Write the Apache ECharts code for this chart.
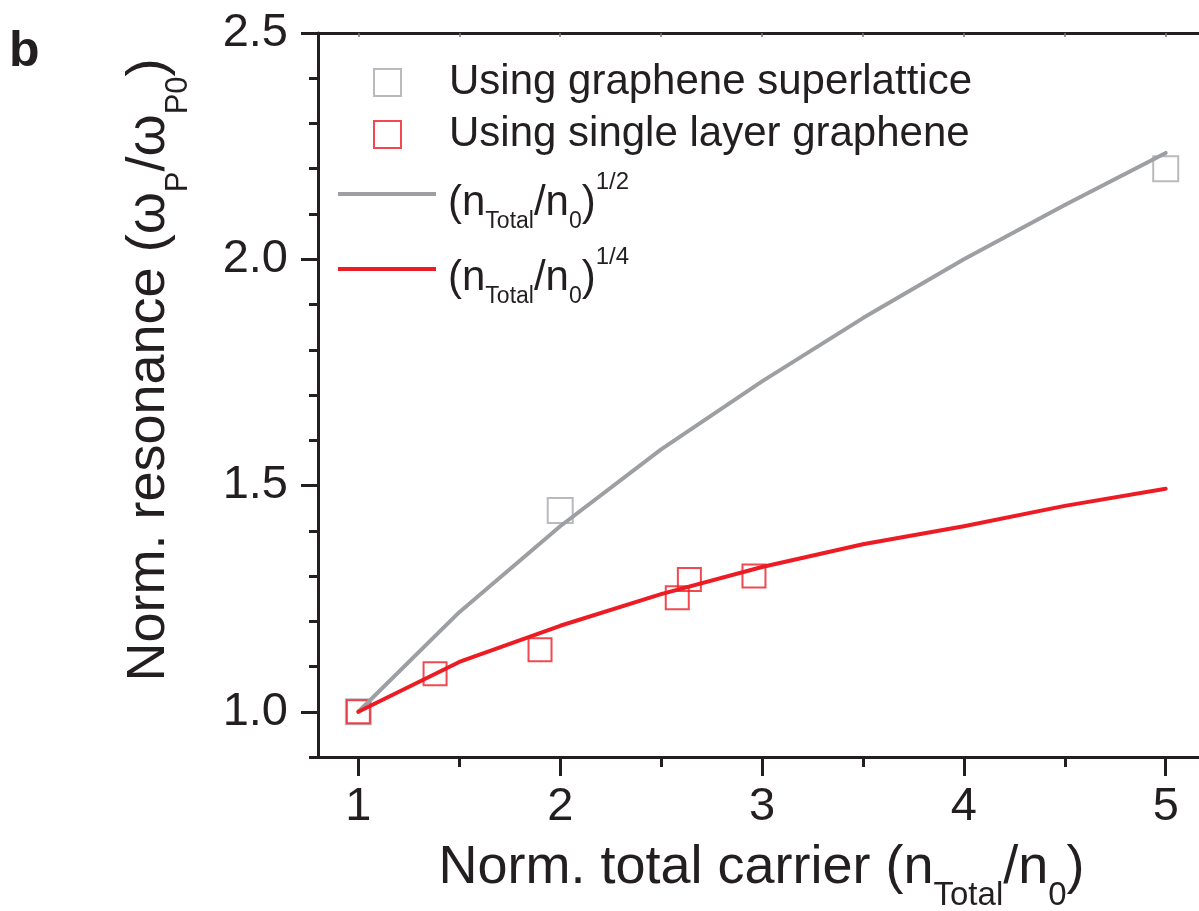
<!DOCTYPE html>
<html>
<head>
<meta charset="utf-8">
<script src="https://cdn.jsdelivr.net/npm/echarts@6/dist/echarts.min.js"></script>
<style>
  body { margin: 0; background: #fff; }
  #myChart { width: 1199px; height: 911px; }
</style>
</head>
<body>
<div id="myChart"></div>
<script>
// values
var fitX = [1, 1.5, 2, 2.5, 3, 3.5, 4, 4.5, 5]
var fitHalf = [1.00, 1.22, 1.41, 1.58, 1.73, 1.87, 2.00, 2.12, 2.235]
var fitQuarter = [1.00, 1.11, 1.19, 1.26, 1.32, 1.37, 1.41, 1.455, 1.493]
var superX = [1, 2, 5]
var superY = [1.00, 1.445, 2.20]
var singleX = [1, 1.38, 1.90, 2.58, 2.64, 2.96]
var singleY = [1.00, 1.084, 1.137, 1.252, 1.292, 1.30]
var xMajor = [1, 2, 3, 4, 5]
var xMinor = [1.5, 2.5, 3.5, 4.5]
var xTop = [1, 1.5, 2, 2.5, 3, 3.5, 4, 4.5, 5]
var yMajor = [1.0, 1.5, 2.0, 2.5]
var yMinor = [0.9, 1.1, 1.2, 1.3, 1.4, 1.6, 1.7, 1.8, 1.9, 2.1, 2.2, 2.3, 2.4]

var names = ['Using graphene superlattice', 'Using single layer graphene', 'half', 'quarter']
var ink = '#231f20'
var gray = '#9d9fa2'
var red = '#ed1c24'
var font = "'Liberation Sans', Arial, sans-serif"

function pairs (xs, ys) {
  return xs.map((x, i) => [x, ys[i]])
}

// rich styles for the small sub/superscripts
var legendRich = {
  a: { fontSize: 42, lineHeight: 66, fontFamily: font, color: ink },
  s: { fontSize: 23, lineHeight: 10, verticalAlign: 'top', padding: [40, 0, 0, 0], fontFamily: font, color: ink },
  p: { fontSize: 24, lineHeight: 10, verticalAlign: 'top', padding: [0, 0, 0, 0], fontFamily: font, color: ink }
}

function squareLegend (name, top, border) {
  return {
    left: 373,
    top: top,
    padding: 0,
    selectedMode: false,
    itemWidth: 27,
    itemHeight: 27,
    data: [{ name: name, icon: 'rect', itemStyle: { color: 'rgba(0,0,0,0)', borderColor: border, borderWidth: 2 } }],
    textStyle: { fontSize: 42, fontFamily: font, color: ink, padding: [0, 0, 0, 43] }
  }
}

function lineLegend (name, top, color, power) {
  return {
    left: 338,
    top: top,
    padding: 0,
    selectedMode: false,
    itemWidth: 98,
    itemHeight: 4,
    data: [{ name: name, icon: 'rect', itemStyle: { color: color, borderWidth: 0 } }],
    formatter: function () {
      return '{a|(n}{s|Total}{a|/n}{s|0}{a|)}{p|' + power + '}'
    },
    textStyle: { fontSize: 42, fontFamily: font, color: ink, padding: [18, 0, 0, 7], rich: legendRich }
  }
}

var option = {
  animation: false,
  title: {
    text: 'b',
    left: 9,
    top: 27,
    padding: 0,
    textStyle: { fontSize: 50, fontWeight: 'bold', fontFamily: font, color: ink }
  },
  grid: { left: 318, top: 33, right: 0, bottom: 154, outerBoundsMode: 'none' },
  legend: [
    squareLegend(names[0], 61.5, '#a7a9ac'),
    squareLegend(names[1], 113.5, red),
    lineLegend(names[2], 170, gray, '1/2'),
    lineLegend(names[3], 245, red, '1/4')
  ],
  xAxis: [
    {
      type: 'value',
      min: 0.8,
      max: 5.165,
      position: 'bottom',
      splitLine: { show: false },
      axisLine: { show: true, lineStyle: { color: ink, width: 3 } },
      axisTick: { customValues: xMajor, length: 19, lineStyle: { color: ink, width: 3 } },
      axisLabel: { customValues: xMajor, fontSize: 47, margin: 27, color: ink, fontFamily: font },
      name: '{a|Norm. total carrier (n}{s|Total}{a|/n}{s|0}{a|)}',
      nameLocation: 'middle',
      nameGap: 84,
      nameTextStyle: {
        padding: [0, 0, 0, 6],
        rich: {
          a: { fontSize: 54, lineHeight: 54, fontFamily: font, color: ink },
          s: { fontSize: 33, lineHeight: 10, verticalAlign: 'top', padding: [38, 0, 0, 0], fontFamily: font, color: ink }
        }
      }
    },
    {
      type: 'value',
      min: 0.8,
      max: 5.165,
      position: 'bottom',
      splitLine: { show: false },
      axisLine: { show: false },
      axisTick: { customValues: xMinor, length: 10, lineStyle: { color: ink, width: 3 } },
      axisLabel: { show: false }
    },
    {
      type: 'value',
      min: 0.8,
      max: 5.165,
      position: 'top',
      splitLine: { show: false },
      axisLine: { show: true, lineStyle: { color: ink, width: 3 } },
      axisTick: { customValues: xTop, inside: true, length: 4, lineStyle: { color: '#777', width: 1.5 } },
      axisLabel: { show: false }
    }
  ],
  yAxis: [
    {
      type: 'value',
      min: 0.9,
      max: 2.5,
      position: 'left',
      splitLine: { show: false },
      axisLine: { show: true, lineStyle: { color: ink, width: 3 } },
      axisTick: { customValues: yMajor, length: 17, lineStyle: { color: ink, width: 3 } },
      axisLabel: {
        customValues: yMajor,
        fontSize: 47,
        margin: 30,
        color: ink,
        fontFamily: font,
        formatter: function (v) { return v.toFixed(1) }
      },
      name: '{a|Norm. resonance (\u03c9}{s|P}{a|/\u03c9}{s|P0}{a|)}',
      nameLocation: 'middle',
      nameGap: 142,
      nameTextStyle: {
        padding: [0, 0, 0, 50],
        rich: {
          a: { fontSize: 54, lineHeight: 54, fontFamily: font, color: ink },
          s: { fontSize: 31, lineHeight: 10, verticalAlign: 'top', padding: [41, 0, 0, 0], fontFamily: font, color: ink }
        }
      }
    },
    {
      type: 'value',
      min: 0.9,
      max: 2.5,
      position: 'left',
      splitLine: { show: false },
      axisLine: { show: false },
      axisTick: { customValues: yMinor, length: 9, lineStyle: { color: ink, width: 3 } },
      axisLabel: { show: false }
    }
  ],
  series: [
    {
      name: names[0],
      type: 'scatter',
      symbol: 'rect',
      symbolSize: 25,
      data: pairs(superX, superY),
      itemStyle: { color: 'rgba(0,0,0,0)', borderColor: '#a7a9ac', borderWidth: 2 }
    },
    {
      name: names[1],
      type: 'scatter',
      symbol: 'rect',
      symbolSize: 23,
      data: pairs(singleX, singleY),
      itemStyle: { color: 'rgba(0,0,0,0)', borderColor: red, borderWidth: 2 }
    },
    {
      name: names[2],
      type: 'line',
      showSymbol: false,
      data: pairs(fitX, fitHalf),
      itemStyle: { color: gray },
      lineStyle: { color: gray, width: 4, cap: 'round', join: 'round' }
    },
    {
      name: names[3],
      type: 'line',
      showSymbol: false,
      data: pairs(fitX, fitQuarter),
      itemStyle: { color: red },
      lineStyle: { color: red, width: 4, cap: 'round', join: 'round' }
    }
  ]
}

var myChart = echarts.init(document.getElementById('myChart'))
myChart.setOption(option)
</script>
</body>
</html>
